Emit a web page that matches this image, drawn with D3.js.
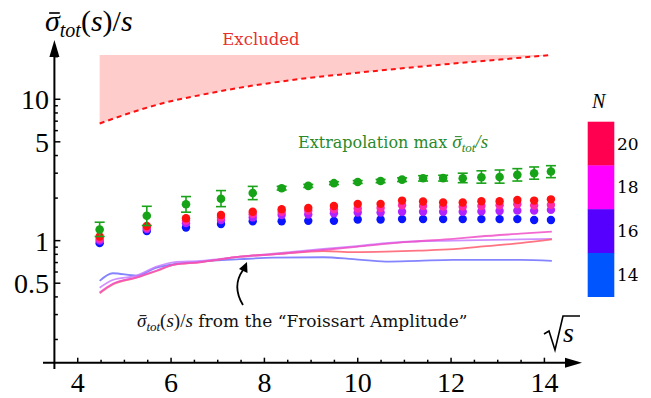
<!DOCTYPE html>
<html><head><meta charset="utf-8">
<script src="https://cdn.jsdelivr.net/npm/d3@7"></script>
<style>body{margin:0;background:#fff}svg{display:block}</style>
</head><body><svg id="c" width="651" height="398"></svg>
<script>
// ---- data ----
const sqrtS = [4.47,5.48,6.32,7.07,7.75,8.37,8.94,9.49,10.0,10.49,10.95,11.40,11.83,12.25,12.65,13.04,13.42,13.78,14.14];
const extrapMax = [1.20,1.50,1.81,1.98,2.17,2.35,2.44,2.55,2.60,2.64,2.70,2.76,2.77,2.76,2.81,2.82,2.92,3.00,3.08];
const extrapLo  = [1.07,1.28,1.59,1.74,1.95,2.28,2.38,2.49,2.54,2.57,2.62,2.64,2.64,2.57,2.55,2.55,2.64,2.72,2.79];
const extrapHi  = [1.35,1.75,2.05,2.26,2.42,2.42,2.50,2.61,2.66,2.71,2.78,2.88,2.90,3.00,3.12,3.16,3.23,3.32,3.39];
const n20 = [1.07,1.27,1.44,1.52,1.60,1.67,1.70,1.76,1.82,1.82,1.92,1.89,1.86,1.86,1.90,1.90,1.94,1.92,1.96];
const n18 = [1.03,1.24,1.39,1.46,1.54,1.60,1.63,1.67,1.69,1.70,1.78,1.76,1.74,1.74,1.76,1.78,1.81,1.77,1.79];
const n16 = [1.00,1.21,1.33,1.40,1.46,1.52,1.53,1.56,1.58,1.58,1.60,1.60,1.60,1.60,1.61,1.62,1.63,1.63,1.65];
const n14 = [0.96,1.17,1.24,1.31,1.37,1.37,1.38,1.38,1.41,1.41,1.42,1.42,1.42,1.42,1.42,1.42,1.42,1.40,1.40];

const lineX = [4.47,4.75,5.26,5.69,6.05,6.62,7.48,8.19,9.26,9.91,10.6,11.3,12.05,12.62,13.48,14.16];
const froissart14 = [0.519,0.588,0.566,0.644,0.681,0.711,0.739,0.758,0.763,0.739,0.711,0.72,0.73,0.73,0.73,0.719];
const froissart16 = [0.465,0.527,0.566,0.655,0.703,0.718,0.77,0.81,0.873,0.91,0.96,0.99,1.0,1.01,1.02,1.03];
const froissart18 = [0.43,0.495,0.55,0.615,0.675,0.705,0.77,0.80,0.86,0.90,0.95,0.99,1.03,1.07,1.12,1.16];
const froissart20 = [0.425,0.49,0.547,0.61,0.673,0.703,0.77,0.80,0.845,0.83,0.836,0.85,0.87,0.906,0.96,1.02];

const boundX = [4.47,5.12,5.76,6.62,7.69,8.76,9.83,10.91,11.98,13.05,14.16];
const boundY = [6.74,8.0,9.26,10.7,12.4,13.9,15.2,16.5,17.8,19.1,20.6];
const excludedTop = 20.6;

const xTicks = [4,6,8,10,12,14];
const yTicks = [0.5,1,5,10];
const legendN = [20,18,16,14];
const legendColors = ["#ff0050","#ff00ff","#5500ff","#0055ff"];

// ---- scales ----
const svg = d3.select("#c");
const x = d3.scaleLinear().domain([3.5,14.75]).range([54.4,579.4]);
const y = d3.scaleLog().domain([0.137,25]).range([362.7,43]);
const X0 = x(3.5), Y0 = y(0.137);
const TW = "DejaVu Serif", MATH = "Liberation Serif";

function overbar(textSel, idx, fs, baseline){
  const e = textSel.node().getExtentOfChar(idx);
  svg.append("line").attr("x1",e.x+e.width*0.28).attr("x2",e.x+e.width*1.0)
    .attr("y1",baseline-0.6*fs).attr("y2",baseline-0.6*fs)
    .attr("stroke",textSel.attr("fill")||"#000").attr("stroke-width",Math.max(1,fs*0.055));
}

// excluded region
const bpts = boundX.map((v,i)=>[v,boundY[i]]);
svg.append("path")
  .attr("d", d3.area().x(d=>x(d[0])).y0(d=>y(d[1])).y1(()=>y(excludedTop)).curve(d3.curveMonotoneX)(bpts))
  .attr("fill","#ffcccc");
svg.append("path")
  .attr("d", d3.line().x(d=>x(d[0])).y(d=>y(d[1])).curve(d3.curveMonotoneX)(bpts))
  .attr("fill","none").attr("stroke","#ff1010").attr("stroke-width",2).attr("stroke-dasharray","5,4");

svg.append("text").attr("x",261).attr("y",45).attr("text-anchor","middle")
  .attr("font-family",TW).attr("font-size",16.5).attr("fill","#e8302a").text("Excluded");

// Froissart lines
const lineGen = d3.line().x((d,i)=>x(lineX[i])).y(d=>y(d)).curve(d3.curveMonotoneX);
[[froissart14,"#6f6fff"],[froissart16,"#c77dff"],[froissart20,"#ff5c6c"],[froissart18,"#f050c8"]].forEach(([arr,c])=>{
  svg.append("path").attr("d",lineGen(arr)).attr("fill","none").attr("stroke",c)
    .attr("stroke-width",1.8).attr("stroke-opacity",0.85);
});

// points
const dotSets = [[n14,"#0a14ff"],[n16,"#b023ff"],[n18,"#ff2aa8"],[n20,"#ff1010"]];
dotSets.forEach(([arr,c])=>{
  svg.append("g").selectAll("circle").data(arr).join("circle")
    .attr("cx",(d,i)=>x(sqrtS[i])).attr("cy",d=>y(d)).attr("r",4.2).attr("fill",c);
});
// green with error bars
const g = svg.append("g").attr("stroke","#1aa31a").attr("stroke-width",1.6);
sqrtS.forEach((sx,i)=>{
  const cx = x(sx);
  g.append("line").attr("x1",cx).attr("x2",cx).attr("y1",y(extrapLo[i])).attr("y2",y(extrapHi[i]));
  g.append("line").attr("x1",cx-5).attr("x2",cx+5).attr("y1",y(extrapLo[i])).attr("y2",y(extrapLo[i]));
  g.append("line").attr("x1",cx-5).attr("x2",cx+5).attr("y1",y(extrapHi[i])).attr("y2",y(extrapHi[i]));
});
svg.append("g").selectAll("circle").data(extrapMax).join("circle")
  .attr("cx",(d,i)=>x(sqrtS[i])).attr("cy",d=>y(d)).attr("r",4.3).attr("fill","#17a317");

// extrapolation label
const tx = svg.append("text").attr("x",298).attr("y",148).attr("font-family",TW)
  .attr("font-size",16).attr("fill","#2a8a2a");
tx.append("tspan").text("Extrapolation max ");
tx.append("tspan").attr("font-family",MATH).attr("font-style","italic").attr("font-size",19).text("σ");
tx.append("tspan").attr("font-family",MATH).attr("font-style","italic").attr("font-size",13).attr("dy",4).text("tot");
tx.append("tspan").attr("font-family",MATH).attr("font-style","italic").attr("font-size",19).attr("dy",-4).text("/s");
overbar(tx,18,19,148);

// annotation
const ta = svg.append("text").attr("x",137).attr("y",327).attr("font-family",TW)
  .attr("font-size",17).attr("fill","#111");
ta.append("tspan").attr("font-family",MATH).attr("font-style","italic").attr("font-size",19).text("σ");
ta.append("tspan").attr("font-family",MATH).attr("font-style","italic").attr("font-size",13).attr("dy",4).text("tot");
ta.append("tspan").attr("font-family",MATH).attr("font-size",19).attr("dy",-4).text("(");
ta.append("tspan").attr("font-family",MATH).attr("font-style","italic").attr("font-size",19).text("s");
ta.append("tspan").attr("font-family",MATH).attr("font-size",19).text(")/");
ta.append("tspan").attr("font-family",MATH).attr("font-style","italic").attr("font-size",19).text("s");
ta.append("tspan").text(" from the \u201CFroissart Amplitude\u201D");
overbar(ta,0,19,327);

// arrow
svg.append("path").attr("d","M243,305 C235,292 236,280 243,270").attr("fill","none").attr("stroke","#000").attr("stroke-width",1.8);
svg.append("path").attr("d","M247,262 L247.5,273 L239,269 Z").attr("fill","#000");

// axes
const ax = svg.append("g").attr("stroke","#000");
ax.append("line").attr("x1",43).attr("x2",568).attr("y1",Y0).attr("y2",Y0).attr("stroke-width",2);
ax.append("line").attr("x1",X0).attr("x2",X0).attr("y1",369).attr("y2",54).attr("stroke-width",2);
svg.append("path").attr("d",`M${X0},40 L${X0-5},57 L${X0+5},57 Z`).attr("fill","#000");
svg.append("path").attr("d",`M582,${Y0} L565,${Y0-5} L565,${Y0+5} Z`).attr("fill","#000");

// x ticks
d3.range(4,14.51,0.5).forEach(v=>{
  const major = xTicks.includes(v);
  ax.append("line").attr("x1",x(v)).attr("x2",x(v)).attr("y1",Y0).attr("y2",Y0-(major?5:3)).attr("stroke-width",1.5);
});
svg.append("g").selectAll("text").data(xTicks).join("text")
  .attr("x",d=>x(d)).attr("y",392).attr("text-anchor","middle")
  .attr("font-family",MATH).attr("font-size",28).text(d=>d);

// y ticks
const yMinor = [0.2,0.3,0.4,0.6,0.7,0.8,0.9,2,3,4,6,7,8,9,20];
yMinor.forEach(v=>{
  ax.append("line").attr("x1",X0).attr("x2",X0+3.5).attr("y1",y(v)).attr("y2",y(v)).attr("stroke-width",1.5);
});
yTicks.forEach(v=>{
  ax.append("line").attr("x1",X0).attr("x2",X0+6).attr("y1",y(v)).attr("y2",y(v)).attr("stroke-width",1.5);
});
svg.append("g").selectAll("text").data(yTicks).join("text")
  .attr("x",49).attr("y",d=>y(d)+10).attr("text-anchor","end")
  .attr("font-family",MATH).attr("font-size",28).text(d=>d);

// y title
const yt = svg.append("text").attr("x",45).attr("y",31).attr("font-family",MATH).attr("font-size",30).attr("fill","#000");
yt.append("tspan").attr("font-style","italic").text("σ");
yt.append("tspan").attr("font-style","italic").attr("font-size",20).attr("dy",6).text("tot");
yt.append("tspan").attr("dy",-6).text("(");
yt.append("tspan").attr("font-style","italic").text("s");
yt.append("tspan").text(")/");
yt.append("tspan").attr("font-style","italic").text("s");
overbar(yt,0,30,31);

// sqrt s label
svg.append("path").attr("d","M544,334 L549,331 L555,350 L563,316 L580,316")
  .attr("fill","none").attr("stroke","#000").attr("stroke-width",1.6).attr("stroke-linejoin","miter");
svg.append("text").attr("x",563).attr("y",342).attr("font-family",MATH).attr("font-style","italic").attr("font-size",28).text("s");

// legend
const segH = (296.7-121.7)/4;
legendN.forEach((n,i)=>{
  svg.append("rect").attr("x",587.7).attr("y",121.7+i*segH).attr("width",26.6).attr("height",segH+0.3).attr("fill",legendColors[i]);
  svg.append("text").attr("x",617).attr("y",121.7+i*segH+segH/2+6).attr("font-family",TW)
    .attr("font-size",17).text(n);
});
svg.append("text").attr("x",592).attr("y",108).attr("font-family",MATH).attr("font-style","italic").attr("font-size",20).text("N");
</script></body></html>
